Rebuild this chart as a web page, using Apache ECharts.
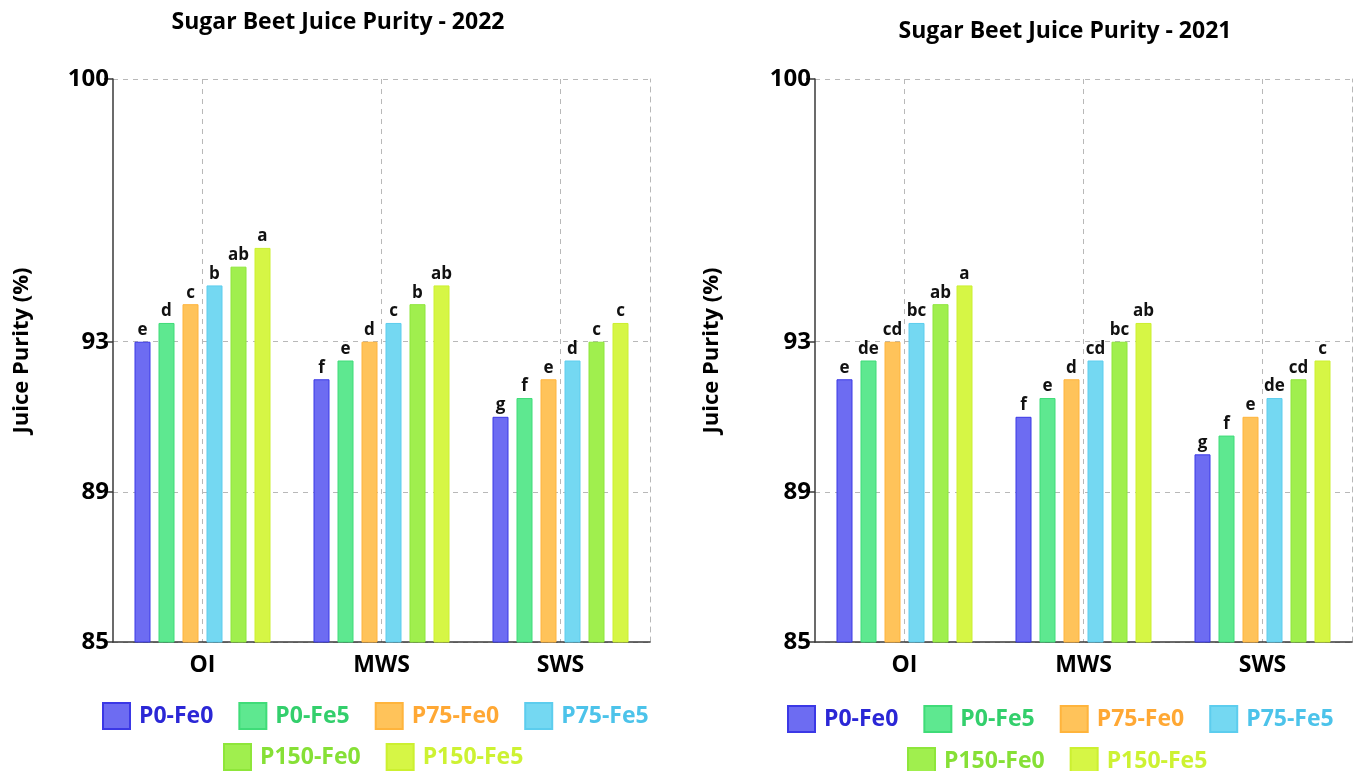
<!DOCTYPE html>
<html>
<head>
<meta charset="utf-8">
<script src="https://cdn.jsdelivr.net/npm/echarts@6/dist/echarts.min.js"></script>
<style>
    html, body { margin: 0; padding: 0; background: #fff; }
    #chart { width: 1360px; height: 771px; }
</style>
</head>
<body>
<div id="chart"></div>
<script>
// categories and treatments
const categories = ['OI', 'MWS', 'SWS']
const treatments = ['P0-Fe0', 'P0-Fe5', 'P75-Fe0', 'P75-Fe5', 'P150-Fe0', 'P150-Fe5']
const yTicks = [85, 89, 93, 100]

// juice purity (%) per treatment, in category order
const purity2022 = [
    [93.0, 92.0, 91.0],
    [93.5, 92.5, 91.5],
    [94.0, 93.0, 92.0],
    [94.5, 93.5, 92.5],
    [95.0, 94.0, 93.0],
    [95.5, 94.5, 93.5]
]
const letters2022 = [
    ['e', 'f', 'g'],
    ['d', 'e', 'f'],
    ['c', 'd', 'e'],
    ['b', 'c', 'd'],
    ['ab', 'b', 'c'],
    ['a', 'ab', 'c']
]
const purity2021 = [
    [92.0, 91.0, 90.0],
    [92.5, 91.5, 90.5],
    [93.0, 92.0, 91.0],
    [93.5, 92.5, 91.5],
    [94.0, 93.0, 92.0],
    [94.5, 93.5, 92.5]
]
const letters2021 = [
    ['e', 'f', 'g'],
    ['de', 'e', 'f'],
    ['cd', 'd', 'e'],
    ['bc', 'cd', 'de'],
    ['ab', 'bc', 'cd'],
    ['a', 'ab', 'c']
]

const fills = ['#6d6cf2', '#5ee890', '#ffc35a', '#74d8f2', '#a0ef4e', '#d6f645']
const borders = ['#3b38e6', '#3fdc78', '#ffb43c', '#5ccdee', '#8ee63a', '#ccf030']
const textColors = ['#2b27d6', '#33cf6c', '#ffa834', '#4cc3ea', '#86e036', '#cdf232']

const FONT = "'Open Sans', sans-serif"
const darkLine = '#3a3a3a'
const gridDash = '#b8b8b8'

function makeSeries(values, letters, axisIdx, yIdx) {
    return treatments.map((name, i) => ({
        type: 'bar',
        name: name,
        xAxisIndex: axisIdx,
        yAxisIndex: yIdx,
        data: values[i],
        barWidth: 16,
        barGap: '50%',
        itemStyle: {
            color: fills[i],
            borderColor: borders[i],
            borderWidth: 1
        },
        label: {
            show: true,
            position: 'top',
            distance: 3,
            color: '#111',
            fontFamily: FONT,
            fontWeight: 'bold',
            fontSize: 17,
            formatter: p => letters[i][p.dataIndex]
        }
    }))
}

function makeX(gridIndex) {
    return {
        type: 'category',
        gridIndex: gridIndex,
        data: categories,
        axisLine: { lineStyle: { color: darkLine, width: 1.5 } },
        axisTick: { alignWithLabel: true, length: 9, lineStyle: { color: darkLine, width: 1.5 } },
        axisLabel: { color: '#000', fontFamily: FONT, fontWeight: 'bold', fontSize: 23, margin: 12 },
        splitLine: { show: true, alignWithLabel: true, lineStyle: { color: gridDash, type: [5, 5] } }
    }
}

function makeY(gridIndex, nameGap) {
    return {
        type: 'value',
        gridIndex: gridIndex,
        min: 85,
        max: 100,
        name: 'Juice Purity (%)',
        nameLocation: 'middle',
        nameGap: nameGap,
        nameTextStyle: { color: '#000', fontFamily: FONT, fontWeight: 'bold', fontSize: 22, padding: [0, 0, 0, 20] },
        axisLine: { show: true, lineStyle: { color: darkLine, width: 1.5 } },
        axisTick: { show: true, customValues: yTicks, length: 9, lineStyle: { color: darkLine, width: 1.5 } },
        axisLabel: { customValues: yTicks, color: '#000', fontFamily: FONT, fontWeight: 'bold', fontSize: 24, margin: 4 },
        splitLine: { show: true, lineStyle: { color: gridDash, type: [5, 5] } }
    }
}

function makeBorderY(gridIndex) {
    return {
        type: 'value',
        gridIndex: gridIndex,
        position: 'right',
        min: 85,
        max: 100,
        axisLine: { show: true, lineStyle: { color: gridDash, type: [5, 5] } },
        axisTick: { show: false },
        axisLabel: { show: false },
        splitLine: { show: false }
    }
}

function makeLegend(names, x, top) {
    return {
        data: names.map(n => ({
            name: n,
            textStyle: { color: textColors[treatments.indexOf(n)] }
        })),
        left: x,
        top: top,
        padding: 0,
        icon: 'rect',
        itemWidth: 27,
        itemHeight: 26,
        itemGap: 25,
        selectedMode: false,
        textStyle: { fontFamily: FONT, fontWeight: 'bold', fontSize: 23, padding: [0, 0, 0, 4] }
    }
}

const chart = echarts.init(document.getElementById('chart'))

const option = {
    animation: false,
    title: [
        {
            text: 'Sugar Beet Juice Purity - 2022',
            left: 333, top: 6, textAlign: 'center',
            textStyle: { color: '#000', fontFamily: FONT, fontWeight: 'bold', fontSize: 23 }
        },
        {
            text: 'Sugar Beet Juice Purity - 2021',
            left: 1060, top: 15, textAlign: 'center',
            textStyle: { color: '#000', fontFamily: FONT, fontWeight: 'bold', fontSize: 23 }
        }
    ],
    legend: [
        makeLegend(treatments.slice(0, 4), 102, 702),
        makeLegend(treatments.slice(4), 223, 743),
        makeLegend(treatments.slice(0, 4), 787, 705),
        makeLegend(treatments.slice(4), 907, 747)
    ],
    grid: [
        { left: 113, right: 710, top: 79, bottom: 129 },
        { left: 815, right: 8, top: 79, bottom: 129 }
    ],
    xAxis: [makeX(0), makeX(1)],
    yAxis: [makeY(0, 80), makeBorderY(0), makeY(1, 92), makeBorderY(1)],
    series: [
        ...makeSeries(purity2022, letters2022, 0, 0),
        ...makeSeries(purity2021, letters2021, 1, 2)
    ]
}

chart.setOption(option)
</script>
</body>
</html>
